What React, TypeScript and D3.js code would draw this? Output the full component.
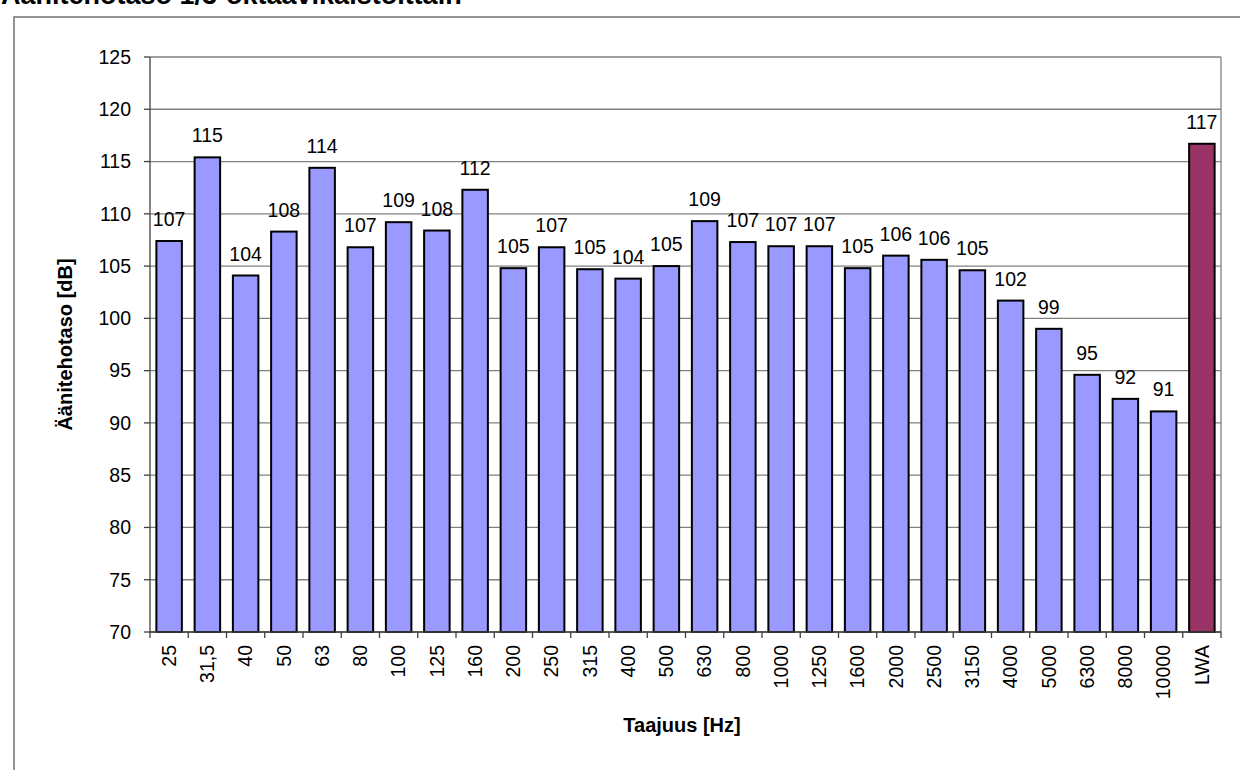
import React from "react";
import * as d3 from "d3";

const categories = ["25","31,5","40","50","63","80","100","125","160","200","250","315","400","500","630","800","1000","1250","1600","2000","2500","3150","4000","5000","6300","8000","10000","LWA"];
const values = [107.4,115.4,104.1,108.3,114.4,106.8,109.2,108.4,112.3,104.8,106.8,104.7,103.8,105.0,109.3,107.3,106.9,106.9,104.8,106.0,105.6,104.6,101.7,99.0,94.6,92.3,91.1,116.7];
const yTicks = [70,75,80,85,90,95,100,105,110,115,120,125];
const title = "Äänitehotaso 1/3-oktaavikaistoittain";
const yTitle = "Äänitehotaso [dB]";
const xTitle = "Taajuus [Hz]";

const W = 1240, H = 770;
const M = { left: 150, right: 1221, top: 57, bottom: 632 };
const FONT = "Arial, 'Liberation Sans', sans-serif";

export default function App() {
  const x = d3.scaleBand<string>().domain(categories).range([M.left, M.right]).paddingInner(1 / 3).paddingOuter(1 / 6);
  const step = x.step();
  const y = d3.scaleLinear().domain([70, 125]).range([M.bottom, M.top]);
  const fmt = d3.format(".0f");

  return (
    <svg width={W} height={H} style={{ position: "absolute", left: 0, top: 0, background: "#fff" }} fontFamily={FONT}>
      <text x={1} y={4} fontSize={27} fontWeight="bold" fill="#000">{title}</text>
      <rect x={14} y={17} width={W} height={H} fill="none" stroke="#707070" strokeWidth={1.5} />
      {/* gridlines */}
      {yTicks.map((t) => (
        <line key={"g" + t} x1={M.left} x2={M.right} y1={y(t)} y2={y(t)} stroke="#808080" strokeWidth={1.3} />
      ))}
      <line x1={M.right} x2={M.right} y1={M.top} y2={M.bottom} stroke="#808080" strokeWidth={1.3} />
      {/* bars */}
      {categories.map((c, i) => (
        <rect key={"b" + c} x={x(c)} y={y(values[i])} width={x.bandwidth()} height={M.bottom - y(values[i])}
          fill={c === "LWA" ? "#993366" : "#9999FF"} stroke="#000" strokeWidth={2} />
      ))}
      {/* axes */}
      <line x1={M.left} x2={M.left} y1={M.top} y2={M.bottom} stroke="#404040" strokeWidth={1.3} />
      <line x1={M.left} x2={M.right} y1={M.bottom} y2={M.bottom} stroke="#404040" strokeWidth={1.3} />
      {yTicks.map((t) => (
        <g key={"yt" + t}>
          <line x1={M.left - 6} x2={M.left} y1={y(t)} y2={y(t)} stroke="#404040" strokeWidth={1.3} />
          <text x={M.left - 19} y={y(t)} dy="0.35em" textAnchor="end" fontSize={19.5} fill="#000">{t}</text>
        </g>
      ))}
      {categories.map((c, i) => (
        <line key={"xt" + c} x1={M.left + i * step} x2={M.left + i * step} y1={M.bottom} y2={M.bottom + 6} stroke="#404040" strokeWidth={1.3} />
      ))}
      <line x1={M.right} x2={M.right} y1={M.bottom} y2={M.bottom + 6} stroke="#404040" strokeWidth={1.3} />
      {categories.map((c) => {
        const cx = (x(c) as number) + x.bandwidth() / 2;
        return (
          <text key={"xl" + c} transform={`translate(${cx},645) rotate(-90)`} dy="0.35em" textAnchor="end" fontSize={19.5} fill="#000">{c}</text>
        );
      })}
      {/* value labels */}
      {categories.map((c, i) => {
        const cx = (x(c) as number) + x.bandwidth() / 2;
        return (
          <text key={"v" + c} x={cx} y={y(values[i]) - 15} textAnchor="middle" fontSize={19.5} fill="#000">{fmt(values[i])}</text>
        );
      })}
      <text transform={`translate(65,${(M.top + M.bottom) / 2}) rotate(-90)`} dy="0.35em" textAnchor="middle" fontSize={20} fontWeight="bold" fill="#000">{yTitle}</text>
      <text x={682} y={725} dy="0.35em" textAnchor="middle" fontSize={20} fontWeight="bold" fill="#000">{xTitle}</text>
    </svg>
  );
}
